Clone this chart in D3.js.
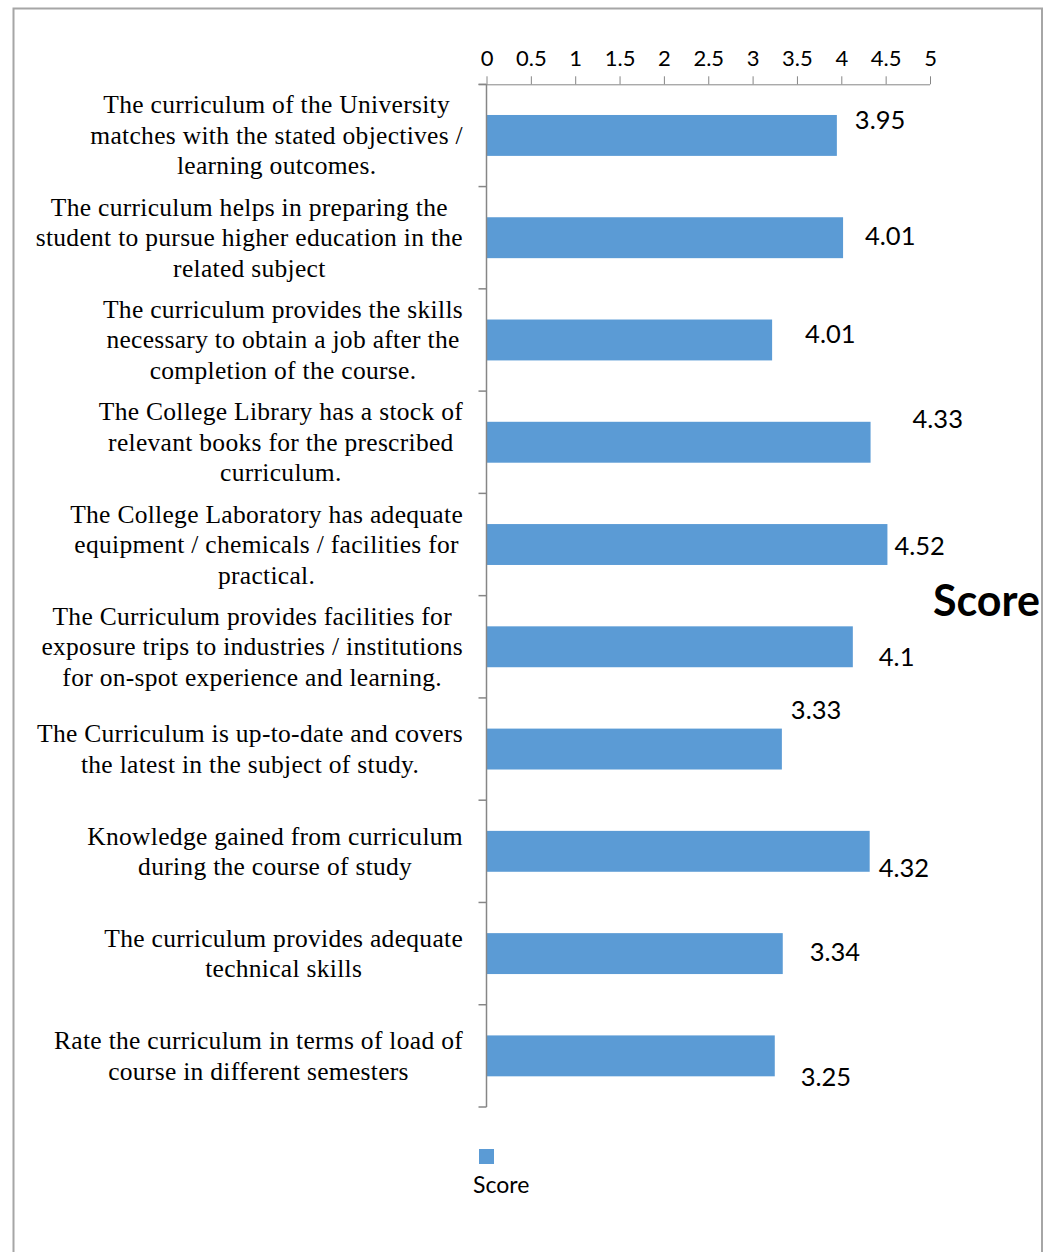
<!DOCTYPE html>
<html>
<head>
<meta charset="utf-8">
<script src="https://cdn.jsdelivr.net/npm/d3@7"></script>
<style>
  html, body { margin: 0; padding: 0; background: #fff; }
  svg { display: block; }
</style>
</head>
<body>
<svg id="chart" width="1046" height="1252"></svg>
<script>
// ---- data ----
const categories = [
  "The curriculum of the University|matches with the stated objectives /|learning outcomes.",
  "The curriculum helps in preparing the|student to pursue higher education in the|related subject",
  "The curriculum provides the skills|necessary to obtain a job after the|completion of the course.",
  "The College Library has a stock of|relevant books for the prescribed|curriculum.",
  "The College Laboratory has adequate|equipment / chemicals / facilities for|practical.",
  "The Curriculum provides facilities for|exposure trips to industries / institutions|for on-spot experience and learning.",
  "The Curriculum is up-to-date and covers|the latest in the subject of study.",
  "Knowledge gained from curriculum|during the course of study",
  "The curriculum provides adequate|technical skills",
  "Rate the curriculum in terms of load of|course in different semesters"
];
const scores = [3.95, 4.02, 3.22, 4.33, 4.52, 4.13, 3.33, 4.32, 3.34, 3.25];
const valueLabels = ["3.95", "4.01", "4.01", "4.33", "4.52", "4.1", "3.33", "4.32", "3.34", "3.25"];
const xTicks = [0, 0.5, 1, 1.5, 2, 2.5, 3, 3.5, 4, 4.5, 5];
const seriesName = "Score";

// ---- layout (label placement offsets, as dragged in the original) ----
const labelOffsets = [[18,-15],[22,-2],[33,-6],[42,-23],[7,1],[26,10],[9,-39],[9,17],[27,-2],[26,21]];

const svg = d3.select("#chart");
const axisColor = "#868686";
const barColor = "#5b9bd5";

// border
svg.append("defs").append("clipPath").attr("id", "clip")
  .append("rect").attr("x", 14).attr("y", 9).attr("width", 1027).attr("height", 1260);
svg.append("rect")
  .attr("x", 13.5).attr("y", 8.5).attr("width", 1028.5).attr("height", 1270)
  .attr("fill", "#fff").attr("stroke", "#a6a6a6").attr("stroke-width", 2);

const g = svg.append("g").attr("clip-path", "url(#clip)");

const x = d3.scaleLinear().domain([0, 5]).range([486.5, 930]);
const y = d3.scaleBand().domain(d3.range(categories.length)).range([84.3, 1107]).padding(0);

// bars
const barFrac = 0.4;
g.selectAll("rect.bar").data(scores).enter().append("rect")
  .attr("class", "bar")
  .attr("x", x(0))
  .attr("y", (d, i) => y(i) + y.bandwidth() * (1 - barFrac) / 2)
  .attr("width", d => x(d) - x(0))
  .attr("height", y.bandwidth() * barFrac)
  .attr("fill", barColor);

// top axis
const xAxis = d3.axisTop(x).tickValues(xTicks).tickSize(8).tickPadding(10)
  .tickFormat(d => String(d));
const xg = g.append("g").attr("transform", `translate(0,${y.range()[0]})`).call(xAxis);
xg.select(".domain").attr("stroke", axisColor).attr("d", `M${x(0) - 8},0.5H${x(5)}`);
xg.selectAll(".tick line").attr("stroke", axisColor);
xg.selectAll(".tick text").attr("font-family", "Lato, sans-serif").attr("font-size", 22).attr("fill", "#000");

// left axis line and ticks
g.append("line").attr("x1", x(0)).attr("x2", x(0))
  .attr("y1", y.range()[0]).attr("y2", y.range()[1])
  .attr("stroke", axisColor).attr("stroke-width", 1.5);
const boundaries = d3.range(categories.length + 1).map(i => i < categories.length ? y(i) : y.range()[1]);
g.selectAll("line.ytick").data(boundaries).enter().append("line")
  .attr("class", "ytick")
  .attr("x1", x(0) - 8).attr("x2", x(0))
  .attr("y1", d => d).attr("y2", d => d)
  .attr("stroke", axisColor).attr("stroke-width", 1.5);

// category labels
const lineH = 30.5;
const rightEdge = 463;
categories.forEach((c, i) => {
  const lines = c.split("|");
  const cy = y(i) + y.bandwidth() / 2;
  const t = g.append("text")
    .attr("font-family", "'Liberation Serif', 'Times New Roman', serif")
    .attr("font-size", 25.5)
    .attr("letter-spacing", 0.3)
    .attr("fill", "#000")
    .attr("text-anchor", "middle");
  const first = cy - (lines.length - 1) * lineH / 2 + 8.5;
  lines.forEach((l, k) => {
    t.append("tspan").attr("y", first + k * lineH).text(l);
  });
  let maxW = 0;
  t.selectAll("tspan").each(function () { maxW = Math.max(maxW, this.getComputedTextLength()); });
  t.selectAll("tspan").attr("x", rightEdge - maxW / 2);
});

// value labels
g.selectAll("text.val").data(scores).enter().append("text")
  .attr("class", "val")
  .attr("x", (d, i) => x(d) + labelOffsets[i][0])
  .attr("y", (d, i) => y(i) + y.bandwidth() / 2 + labelOffsets[i][1] + 9)
  .attr("font-family", "Lato, sans-serif")
  .attr("font-size", 25.5)
  .attr("fill", "#000")
  .text((d, i) => valueLabels[i]);

// axis title
g.append("text")
  .attr("x", 933).attr("y", 616)
  .attr("font-family", "Lato, sans-serif")
  .attr("font-weight", "bold")
  .attr("font-size", 43)
  .attr("fill", "#000")
  .text(seriesName);

// legend
g.append("rect").attr("x", 479).attr("y", 1149).attr("width", 15).attr("height", 15).attr("fill", barColor);
g.append("text")
  .attr("x", 473).attr("y", 1193)
  .attr("font-family", "Lato, sans-serif")
  .attr("font-size", 23)
  .attr("fill", "#000")
  .text(seriesName);
</script>
</body>
</html>
